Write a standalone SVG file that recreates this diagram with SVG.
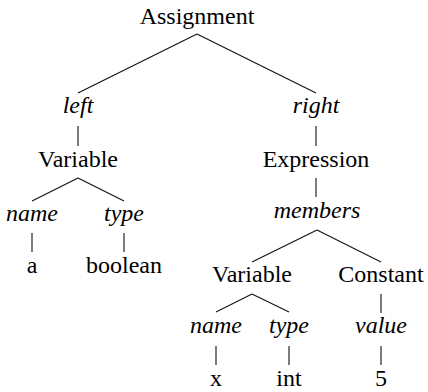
<svg xmlns="http://www.w3.org/2000/svg" width="428" height="392" viewBox="0 0 428 392">
<rect width="428" height="392" fill="#fff"/>
<g id="edges" stroke="#111" stroke-width="1.1">
<line x1="197" y1="34" x2="78" y2="93"/>
<line x1="197" y1="34" x2="316" y2="93"/>
<line x1="78" y1="126" x2="78" y2="146"/>
<line x1="316" y1="126" x2="316" y2="146"/>
<line x1="78" y1="178" x2="32" y2="201"/>
<line x1="78" y1="178" x2="124" y2="201"/>
<line x1="32" y1="233" x2="32" y2="252"/>
<line x1="124" y1="233" x2="124" y2="252"/>
<line x1="316" y1="178" x2="316" y2="197"/>
<line x1="317" y1="230" x2="252" y2="262"/>
<line x1="317" y1="230" x2="381" y2="262"/>
<line x1="252" y1="294" x2="216" y2="312"/>
<line x1="252" y1="294" x2="289" y2="312"/>
<line x1="381" y1="294" x2="381" y2="313"/>
<line x1="216" y1="346" x2="216" y2="365"/>
<line x1="289" y1="346" x2="289" y2="365"/>
<line x1="381" y1="346" x2="381" y2="365"/>
</g>
<g id="assignment"><text x="197" y="24" font-size="24" font-family="Liberation Serif" text-anchor="middle">Assignment</text></g>
<g id="left"><text x="78" y="113" font-size="24" font-family="Liberation Serif" font-style="italic" text-anchor="middle">left</text></g>
<g id="right"><text x="316" y="113" font-size="24" font-family="Liberation Serif" font-style="italic" text-anchor="middle">right</text></g>
<g id="variable1"><text x="78" y="167" font-size="24" font-family="Liberation Serif" text-anchor="middle">Variable</text></g>
<g id="expression"><text x="316" y="167" font-size="24" font-family="Liberation Serif" text-anchor="middle">Expression</text></g>
<g id="name1"><text x="32" y="221" font-size="24" font-family="Liberation Serif" font-style="italic" text-anchor="middle">name</text></g>
<g id="type1"><text x="124" y="221" font-size="24" font-family="Liberation Serif" font-style="italic" text-anchor="middle">type</text></g>
<g id="members"><text x="317" y="218" font-size="24" font-family="Liberation Serif" font-style="italic" text-anchor="middle">members</text></g>
<g id="a"><text x="32" y="273" font-size="24" font-family="Liberation Serif" text-anchor="middle">a</text></g>
<g id="boolean"><text x="124" y="273" font-size="24" font-family="Liberation Serif" text-anchor="middle">boolean</text></g>
<g id="variable2"><text x="252" y="282" font-size="24" font-family="Liberation Serif" text-anchor="middle">Variable</text></g>
<g id="constant"><text x="381" y="282" font-size="24" font-family="Liberation Serif" text-anchor="middle">Constant</text></g>
<g id="name2"><text x="216" y="333" font-size="24" font-family="Liberation Serif" font-style="italic" text-anchor="middle">name</text></g>
<g id="type2"><text x="289" y="333" font-size="24" font-family="Liberation Serif" font-style="italic" text-anchor="middle">type</text></g>
<g id="value"><text x="381" y="333" font-size="24" font-family="Liberation Serif" font-style="italic" text-anchor="middle">value</text></g>
<g id="x"><text x="216" y="386" font-size="24" font-family="Liberation Serif" text-anchor="middle">x</text></g>
<g id="int"><text x="289" y="386" font-size="24" font-family="Liberation Serif" text-anchor="middle">int</text></g>
<g id="five"><text x="381" y="386" font-size="24" font-family="Liberation Serif" text-anchor="middle">5</text></g>
</svg>
